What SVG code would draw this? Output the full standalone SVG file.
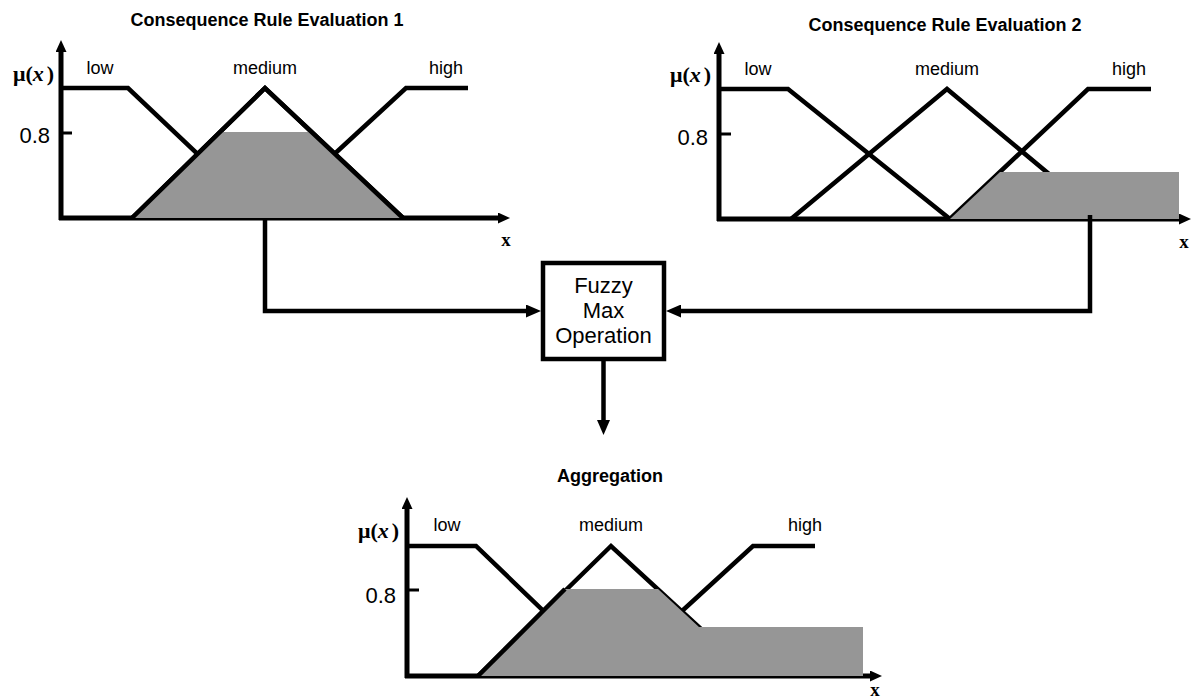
<svg xmlns="http://www.w3.org/2000/svg" width="1193" height="699" viewBox="0 0 1193 699">
  <style>
    .title { font-family: "Liberation Sans", Arial, sans-serif; font-size: 18px; font-weight: bold; fill: #000; text-anchor: middle; }
    .set { font-family: "Liberation Sans", Arial, sans-serif; font-size: 18px; fill: #000; text-anchor: middle; }
    .val { font-family: "Liberation Sans", Arial, sans-serif; font-size: 22px; fill: #000; text-anchor: end; }
    .mu { font-family: "Liberation Serif", "Times New Roman", serif; font-size: 22px; font-weight: bold; fill: #000; }
    .xl { font-family: "Liberation Serif", "Times New Roman", serif; font-size: 19px; font-weight: bold; fill: #000; text-anchor: middle; }
    .box-text { font-family: "Liberation Sans", Arial, sans-serif; font-size: 22px; fill: #000; text-anchor: middle; }
    .axis { fill: none; stroke: #000; stroke-width: 5; }
    .tick { fill: none; stroke: #000; stroke-width: 3; }
    .mf { fill: none; stroke: #000; stroke-width: 4.5; stroke-linejoin: miter; }
    .area { fill: #969696; stroke: none; }
    .conn { fill: none; stroke: #000; stroke-width: 4.5; }
    .box { fill: #fff; stroke: #000; stroke-width: 4.5; }
  </style>
  <defs>
    <marker id="axisHead" markerUnits="userSpaceOnUse" markerWidth="12" markerHeight="11" refX="0" refY="5.5" orient="auto">
      <path d="M0,0 L12,5.5 L0,11 z" fill="#000"/>
    </marker>
    <marker id="connHead" markerUnits="userSpaceOnUse" markerWidth="15" markerHeight="13" refX="0" refY="6.5" orient="auto">
      <path d="M0,0 L15,6.5 L0,13 z" fill="#000"/>
    </marker>
  </defs>

  <!-- Rule 1 output set -->
  <g id="rule-eval-1">
    <text class="title" x="267" y="26">Consequence Rule Evaluation 1</text>
    <line class="axis" x1="61" y1="220" x2="61" y2="52" marker-end="url(#axisHead)"/>
    <line class="axis" x1="59" y1="218" x2="498" y2="218" marker-end="url(#axisHead)"/>
    <line class="tick" x1="61" y1="133" x2="72" y2="133"/>
    <polyline class="mf" points="61,88 128,88 265,218"/>
    <polyline class="mf" points="265,218 406,88 468,88"/>
    <polyline class="mf" points="132,218 265,88 403,218"/>
    <polygon class="area" points="132,218 219,132 314,132 403,218"/>
    <polyline class="mf" points="132,218 265,88 403,218"/>
    <text class="mu" x="13" y="81">μ(<tspan font-style="italic">x</tspan><tspan dx="3">)</tspan></text>
    <text class="val" x="50" y="143">0.8</text>
    <text class="set" x="100" y="74">low</text>
    <text class="set" x="265" y="74">medium</text>
    <text class="set" x="446" y="74">high</text>
    <text class="xl" x="506" y="246">x</text>
  </g>

  <!-- Rule 2 output set -->
  <g id="rule-eval-2">
    <text class="title" x="945" y="31">Consequence Rule Evaluation 2</text>
    <line class="axis" x1="719" y1="221" x2="719" y2="54" marker-end="url(#axisHead)"/>
    <line class="axis" x1="717" y1="219" x2="1179" y2="219" marker-end="url(#axisHead)"/>
    <line class="tick" x1="719" y1="134" x2="731" y2="134"/>
    <polyline class="mf" points="719,89 788,89 950,219"/>
    <polyline class="mf" points="791,219 947,89 1103,219"/>
    <polyline class="mf" points="950,219 1088,89 1151,89"/>
    <polygon class="area" points="950,219 1000,172 1179,172 1179,219"/>
    <text class="mu" x="670" y="82">μ(<tspan font-style="italic">x</tspan><tspan dx="3">)</tspan></text>
    <text class="val" x="708" y="145">0.8</text>
    <text class="set" x="758" y="75">low</text>
    <text class="set" x="947" y="75">medium</text>
    <text class="set" x="1129" y="75">high</text>
    <text class="xl" x="1184" y="248">x</text>
  </g>

  <!-- Max operator -->
  <g id="fuzzy-max">
    <rect class="box" x="543" y="263" width="121" height="96"/>
    <text class="box-text" x="603.5" y="293">Fuzzy</text>
    <text class="box-text" x="603.5" y="318">Max</text>
    <text class="box-text" x="603.5" y="343">Operation</text>
  </g>

  <!-- Aggregated output set -->
  <g id="aggregation">
    <text class="title" x="610" y="482">Aggregation</text>
    <line class="axis" x1="407" y1="678" x2="407" y2="509" marker-end="url(#axisHead)"/>
    <line class="axis" x1="405" y1="676" x2="870" y2="676" marker-end="url(#axisHead)"/>
    <line class="tick" x1="407" y1="590" x2="419" y2="590"/>
    <polyline class="mf" points="407,546 476,546 611,676"/>
    <polyline class="mf" points="611,676 753,546 815,546"/>
    <polyline class="mf" points="478,676 611,546 752,676"/>
    <polygon class="area" points="478,676 565,589 658,589 699,627 863,627 863,676"/>
    <polyline class="mf" points="478,676 565,589"/>
    <text class="mu" x="358" y="538">μ(<tspan font-style="italic">x</tspan><tspan dx="3">)</tspan></text>
    <text class="val" x="396" y="603">0.8</text>
    <text class="set" x="447" y="531">low</text>
    <text class="set" x="611" y="531">medium</text>
    <text class="set" x="805" y="531">high</text>
    <text class="xl" x="875" y="696">x</text>
  </g>

  <!-- Connectors -->
  <g id="connectors">
    <path class="conn" d="M265,218 V311 H526" marker-end="url(#connHead)"/>
    <path class="conn" d="M1090,215 V311 H681" marker-end="url(#connHead)"/>
    <path class="conn" d="M603.5,361 V420" marker-end="url(#connHead)"/>
  </g>
</svg>
